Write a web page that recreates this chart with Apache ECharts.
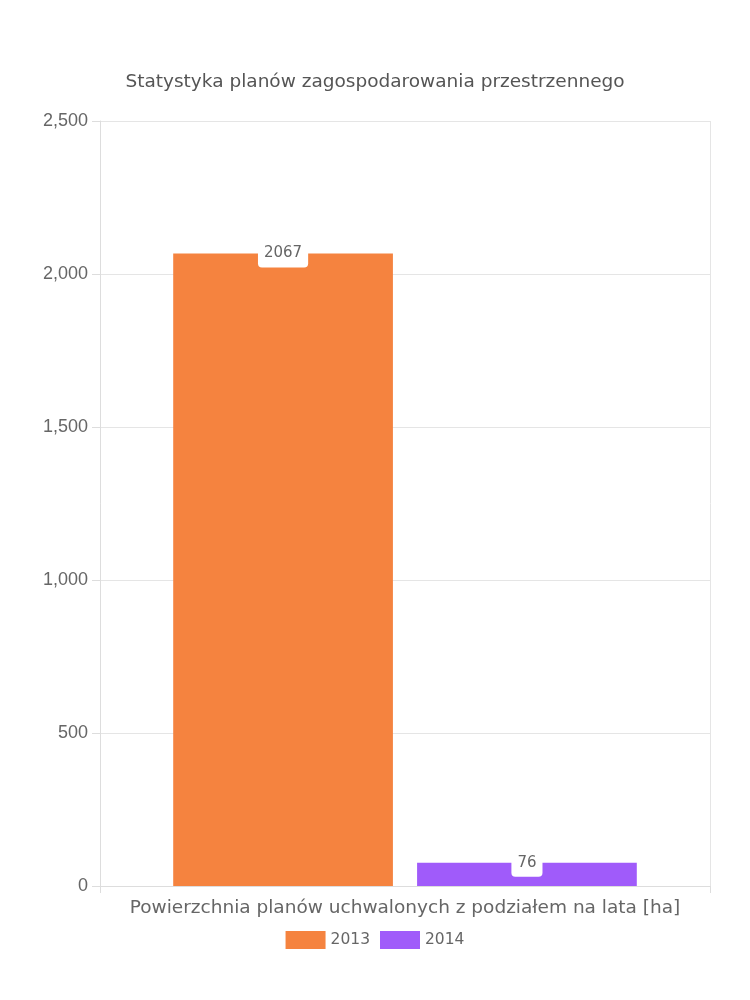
<!DOCTYPE html>
<html><head><meta charset="utf-8">
<script src="https://cdn.jsdelivr.net/npm/echarts@6/dist/echarts.min.js"></script>
<style>html,body{margin:0;padding:0;background:#fff}#c{width:750px;height:1000px}</style>
</head><body><div id="c"></div>
<script>
const titleText = "Statystyka planów zagospodarowania przestrzennego";
const categories = ["Powierzchnia planów uchwalonych z podziałem na lata [ha]"];
const seriesNames = ["2013", "2014"];
const values2013 = [2067];
const values2014 = [76];
const yTicks = [0, 500, 1000, 1500, 2000, 2500];
const colors = ["#F5833F", "#A05BFA"];

const FONT = '"DejaVu Sans", "Open Sans", sans-serif';
const chart = echarts.init(document.getElementById('c'));
const labelOpt = {
  show: true,
  position: ['50%', 0],
  align: 'center',
  verticalAlign: 'middle',
  backgroundColor: '#fff',
  borderRadius: 4,
  padding: [7, 6, 6, 6],
  color: '#666',
  fontSize: 15,
  fontFamily: FONT
};
chart.setOption({
  animation: false,
  title: {
    text: titleText, left: 'center', top: 68,
    textStyle: { color: '#555', fontSize: 18.5, fontWeight: 'normal', fontFamily: FONT }
  },
  legend: {
    data: seriesNames, bottom: 46, left: 'center',
    itemWidth: 40, itemHeight: 18, itemGap: 10,
    icon: 'rect',
    textStyle: { color: '#666', fontSize: 15.5, fontFamily: FONT }
  },
  grid: { left: 100, right: 40, top: 121, bottom: 114 },
  xAxis: {
    type: 'category', data: categories, boundaryGap: true,
    axisLine: { show: true, lineStyle: { color: '#ddd' } },
    axisTick: { show: true, length: 7, lineStyle: { color: '#ddd' } },
    splitLine: { show: true, interval: 0, lineStyle: { color: '#e5e5e5' } },
    axisLabel: { color: '#666', fontSize: 18.5, margin: 13, fontFamily: FONT }
  },
  yAxis: {
    type: 'value', min: yTicks[0], max: yTicks[yTicks.length - 1], interval: 500,
    axisLine: { show: true, lineStyle: { color: '#ddd' } },
    axisTick: { show: true, length: 8, lineStyle: { color: '#ddd' } },
    splitLine: { show: true, lineStyle: { color: '#e5e5e5' } },
    axisLabel: {
      color: '#666', fontSize: 18, margin: 12, fontFamily: '"Liberation Sans", Arial, sans-serif',
      formatter: v => v.toLocaleString('en-US')
    }
  },
  series: [
    { name: seriesNames[0], type: 'bar', data: values2013, itemStyle: { color: colors[0] },
      barCategoryGap: '24%', barGap: '11%', label: labelOpt },
    { name: seriesNames[1], type: 'bar', data: values2014, itemStyle: { color: colors[1] },
      barCategoryGap: '24%', barGap: '11%', label: labelOpt }
  ]
});
</script></body></html>
